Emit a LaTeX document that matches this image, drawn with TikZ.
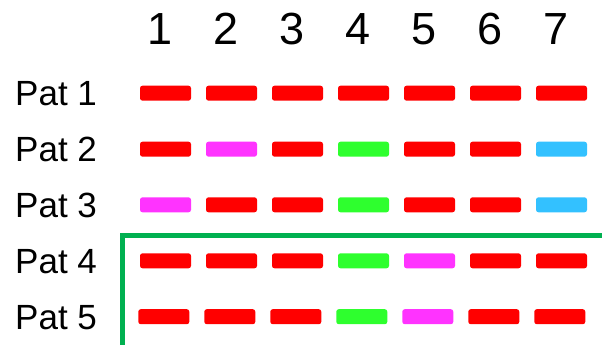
\documentclass[tikz,border=0pt]{standalone}
\usepackage{fontspec}
\setmainfont{Liberation Sans}
\definecolor{cR}{HTML}{FF0000}
\definecolor{cM}{HTML}{FF33FF}
\definecolor{cG}{HTML}{2EFF2E}
\definecolor{cB}{HTML}{33C1FF}
\definecolor{frame}{HTML}{00B050}
\begin{document}
\begin{tikzpicture}[x=1pt,y=-1pt,
  bar/.style={fill=#1,draw=none,rounded corners=2.5pt,minimum width=51pt,minimum height=15pt,inner sep=0pt},
  hdr/.style={font=\fontsize{45}{45}\selectfont,inner sep=0pt,anchor=base},
  lbl/.style={font=\fontsize{35}{35}\selectfont,inner sep=0pt,anchor=base west}]
\useasboundingbox (0,0) rectangle (602,345);
\clip (0,0) rectangle (602,345);
% headers
\foreach \k in {1,...,7}{
  \node[hdr] (h\k) at ({160+66*(\k-1)},45) {\k};
}
% labels
\foreach \r/\y in {1/105.7,2/161.7,3/217.3,4/273.3,5/329.2}{
  \node[lbl] (p\r) at (15,\y) {Pat \r};
}
% bars
\foreach \r/\y/\dx/\cols in {1/93.2/0/{cR,cR,cR,cR,cR,cR,cR},
                             2/149.2/0/{cR,cM,cR,cG,cR,cR,cB},
                             3/204.8/0/{cM,cR,cR,cG,cR,cR,cB},
                             4/260.8/0/{cR,cR,cR,cG,cM,cR,cR},
                             5/316.7/-1.7/{cR,cR,cR,cG,cM,cR,cR}}{
  \foreach \c [count=\k] in \cols {
    \node[bar=\c] (b\r\k) at ({165.5+66*(\k-1)+\dx},\y) {};
  }
}
% green frame
\draw[frame,line width=4.5pt] (604,400) -- (604,235.5) -- (122.5,235.5) -- (122.5,400);
\end{tikzpicture}
\end{document}
